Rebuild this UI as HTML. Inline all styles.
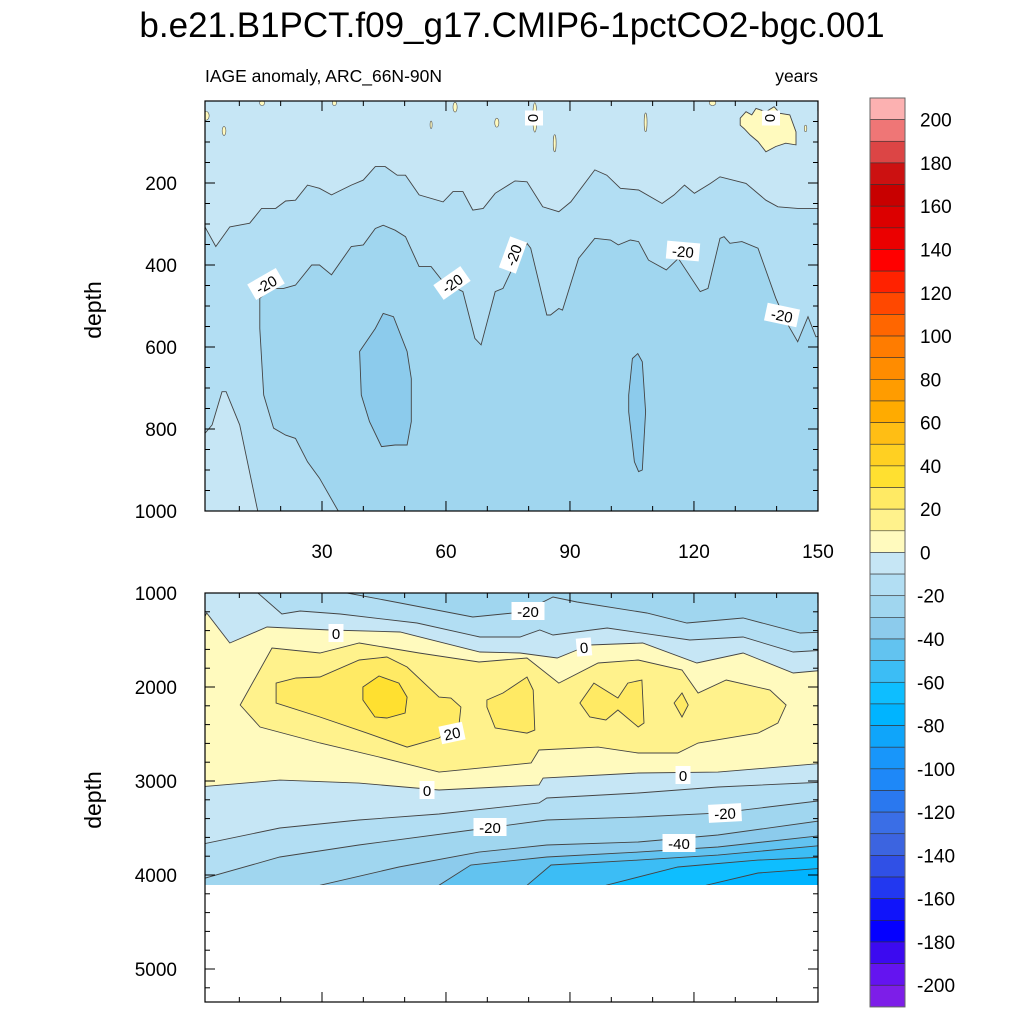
<!DOCTYPE html>
<html><head><meta charset="utf-8"><style>
html,body{margin:0;padding:0;background:#fff;overflow:hidden;width:1024px;height:1024px}
svg{display:block}
svg text{font-family:"Liberation Sans",sans-serif}
</style></head><body>
<svg id="chart" width="1024" height="1024" viewBox="0 0 1024 1024" xmlns="http://www.w3.org/2000/svg">
<defs>
<clipPath id="clipTop"><rect x="205" y="101" width="613" height="410"/></clipPath>
<clipPath id="clipBot"><rect x="205" y="593" width="613" height="292"/></clipPath>
</defs>
<rect width="1024" height="1024" fill="#fff"/>
<text x="512" y="37" font-size="35" text-anchor="middle">b.e21.B1PCT.f09_g17.CMIP6-1pctCO2-bgc.001</text>
<text x="205" y="82" font-size="17.5">IAGE anomaly, ARC_66N-90N</text>
<text x="818" y="82" font-size="17.5" text-anchor="end">years</text>
<g id="topFills" clip-path="url(#clipTop)"></g>
<g id="botFills" clip-path="url(#clipBot)"></g>
<g id="labels"></g>
<g id="axes"></g>
<g id="cbar"></g>
</svg>
<script>
// ---- colour levels (top box >200 ... bottom box <-200)
const bandColors = ['#fcb1b1','#ef7676','#dc4545','#cc1111','#c80000','#dc0000','#eb0000','#ff0000','#ff2200','#ff4800','#ff6600','#ff7c00','#ff8c00','#ff9c00','#ffab00','#ffbe14','#ffd022','#ffe030','#ffea64','#fff28c','#fffabe','#c6e6f5','#b2def3','#a0d6ef','#8ccbec','#62c3f0','#3cbdf5','#0ebeff','#00b4ff','#0fa5fa','#1896fa','#1e88f8','#2a78ef','#3a6ee6','#3c64e0','#3050e6','#2238f0','#1014fa','#0500ff','#3c0af0','#6414f0','#7d1ee8'];
const cbarLabels = [200,180,160,140,120,100,80,60,40,20,0,-20,-40,-60,-80,-100,-120,-140,-160,-180,-200];
const xTickLabels = [30,60,90,120,150];
const topYTicks = [200,400,600,800,1000];
const botYTicks = [1000,2000,3000,4000,5000];

// ---- top panel (0-1000 m) contour lines
const topBase = -10;
const topM10Yr = [0,1.45,4.3,7.7,12.5,15.4,18.8,21.2,23.6,26.5,29.4,32.3,37.1,40,42.9,45.3,48.2,50.2,53.5,59.3,61.7,64.1,66.5,69,71.9,76.7,79.6,83.4,87.3,90.2,96,98.9,102.2,106.6,112.3,115.2,117.7,120.1,124,126.3,132.6,137.4,140.3,145.1,150,152];
const topM10D = [300,303,355,307,298,262,262,244,242,205,213,229,205,193,160,160,181,181,229,246,221,221,266,262,225,195,197,258,270,246,168,181,213,217,250,229,205,225,201,185,201,242,258,262,262,262];
const topM20Yr = [36.2,29.4,26.5,23.6,21.2,18.3,15.9,14.95,14.95,17.8,20.7,23.6,27.5,29.4,32.3,37.1,40,42.9,44.8,47.7,50.2,53.5,56.4,59.3,64.1,67,68.5,71.9,73.8,75.7,79.6,80.5,84.4,85.3,87.3,88.2,92.1,96,99.8,101.7,104.6,106.6,109,113.3,116.2,121.5,123.4,126.3,127.3,128.7,131.6,135.5,139.8,142.3,145.1,147.6,149.5,152];
const topM20D = [1040,920,880,823,815,798,717,555,481,457,457,449,400,400,424,355,351,311,303,315,331,404,404,441,465,579,595,465,457,416,347,359,522,522,506,510,384,335,339,351,339,343,388,412,384,465,457,335,331,347,343,359,481,538,587,526,575,571];
const topCornerYr = [0,3.4,5.8,6.8,10.1,14.5,15,0];
const topCornerD = [831,790,709,709,790,1002,1100,1100];
const topBlob1Yr = [39.1,42.9,44.8,47.3,50.6,51.6,51.6,50.6,47.7,44.4,41.5,39.5];
const topBlob1D = [611,555,518,526,611,677,782,839,839,843,782,717];
const topBlob2Yr = [104.2,105.1,106.4,107.5,108.3,107.5,106.6,105.6,104.2];
const topBlob2D = [717,628,616,636,758,900,904,880,758];
const yellowBigYr = [131.2,132.6,134,135,137.4,139.4,140.8,143.2,144.7,144.7,142.2,139.8,137.4,135.5,133.6,132.1,131.2];
const yellowBigD = [42,26,34,18,26,14,30,34,75,107,103,111,124,99,83,67,59];
const spotYr = [81.5,86.3,72.3,108.3,6.3,56.4,1.9,147,62.2,33,15.5,124.5];
const spotD = [40,103,53,52,73,58,36,67,15,5,5,5];
const spotRYr = [0.5,0.35,0.5,0.35,0.45,0.25,0.8,0.3,0.5,0.5,0.6,0.8];
const spotRD = [36,21,11,23,11,9,11,8,12,6,6,6];

// ---- bottom panel (1000-4106 m)
const botBase = -30;
const bM20aYr = [0,24.7,36.1,48.9,66.5,78.6,85.9,91.7,108.6,118.3,131.9,145.7,152];
const bM20aD = [649,862,1000,1106,1255,1202,1043,1096,1213,1319,1266,1426,1415];
const bM10aYr = [0,14.5,20.3,24.7,34.4,53,68.2,77.9,82.7,85.9,99,119,131.9,144,152];
const bM10aD = [755,1000,1223,1191,1223,1319,1468,1468,1394,1447,1372,1500,1468,1628,1606];
const b0aYr = [0,2.1,7.7,16.7,31.9,48.9,68.2,77.9,86.9,91.7,94.8,107.6,120.7,131.9,144,152];
const b0aD = [1394,1213,1532,1362,1394,1415,1628,1638,1692,1606,1553,1532,1745,1638,1851,1819];
const b0bYr = [0,19.8,38.9,58.3,82.5,83.5,106.5,125.8,152];
const b0bD = [3064,2990,3022,3096,3043,2968,2915,2905,2809];
const bM10bYr = [0,19.8,38.9,58.3,82.5,84.4,106.5,125.8,152];
const bM10bD = [3681,3500,3415,3351,3234,3181,3128,3064,3011];
const bM20bYr = [0,19.8,38.9,69.9,84.4,106.5,125.8,152];
const bM20bD = [4054,3809,3681,3500,3415,3383,3341,3202];
const bM30Yr = [29.5,48.6,68,84.4,106.5,125.8,152];
const bM30D = [4110,3915,3756,3681,3649,3575,3415];
const bM40Yr = [58.3,66,84.4,106.5,125.8,152];
const bM40D = [4110,3894,3809,3756,3702,3575];
const bM50Yr = [79.6,85.4,106.5,125.8,152];
const bM50D = [4110,3894,3841,3788,3681];
const bM60Yr = [98.7,116.1,135.5,152];
const bM60D = [4110,3915,3841,3809];
const bM70Yr = [122.9,135.5,152];
const bM70D = [4110,3979,3926];
const b10Yr = [10.2,17.9,29.5,39,53.5,68,79.6,87.3,96.8,106.5,117.1,121,127.8,138.4,142.3,140.3,135.5,121,116.1,106.5,96.8,82.5,80.6,58.3,43.8,29.5,15];
const b10D = [2192,1585,1638,1532,1638,1734,1692,1958,1745,1713,1819,2064,1926,2032,2192,2383,2490,2596,2702,2702,2639,2670,2809,2905,2745,2596,2426];
const b20aYr = [18.9,23.7,29.5,39,45.7,50.6,58.3,61.2,63.6,63.2,58.3,50.6,40.9,29.5,18.9];
const b20aD = [1958,1904,1894,1713,1681,1787,2107,2117,2213,2383,2543,2639,2490,2319,2170];
const b20bYr = [69.9,73.8,79.6,81.1,81.5,79.6,71.9,69.9];
const b20bD = [2138,2064,1894,2032,2458,2490,2436,2213];
const b20cYr = [92.4,95.8,101.6,104,107.4,107.9,106.5,101.6,98.7,94.8];
const b20cD = [2170,1958,2117,1958,1926,2383,2426,2245,2351,2319];
const b20dYr = [115.2,117.1,118.6,117.1];
const b20dD = [2170,2064,2192,2319];
const b30Yr = [39.9,43.8,48.6,50.6,50.1,45.7,42.8,39.9];
const b30D = [2000,1883,1958,2107,2277,2330,2319,2138];

// ---- scales
function xs(yr){ return 198 + 4.133*yr; }
function ysTop(d){ return 101 + 0.41*d; }
function ysBot(d){ return 593 + 0.094*(d-1000); }
function colorOf(v){ const k = (200 - v)/10; return bandColors[k]; }
const NS='http://www.w3.org/2000/svg';
function mk(tag, parent){ const e=document.createElementNS(NS,tag); parent.appendChild(e); return e; }
function pts(yrs, ds, ys){ return yrs.map((y,i)=>xs(y).toFixed(1)+','+ys(ds[i]).toFixed(1)).join(' '); }

function fillBelow(g, yrs, ds, ys, v, name){
  const big = 9000;
  const yy = yrs.concat([yrs[yrs.length-1], yrs[0]]);
  const dd = ds.concat([big, big]);
  const p = mk('polygon', g);
  
  
  p.setAttribute('points', pts(yy, dd, ys));
  p.setAttribute('fill', colorOf(v));
}
function strokeLine(g, yrs, ds, ys, name){
  const p = mk('polyline', g);
  
  
  p.setAttribute('points', pts(yrs, ds, ys));
  p.setAttribute('fill', 'none'); p.setAttribute('stroke', '#444'); p.setAttribute('stroke-width', '0.9');
}
function blob(g, yrs, ds, ys, v, name){
  const p = mk('polygon', g);
  
  
  p.setAttribute('points', pts(yrs, ds, ys));
  p.setAttribute('fill', colorOf(v)); p.setAttribute('stroke', '#444'); p.setAttribute('stroke-width', '0.9');
}

// ---- top panel
const tg = document.getElementById('topFills');
const tbg = mk('rect', tg);


tbg.setAttribute('x', 205); tbg.setAttribute('y', 101); tbg.setAttribute('width', 613); tbg.setAttribute('height', 410); tbg.setAttribute('fill', colorOf(topBase));
fillBelow(tg, topM10Yr, topM10D, ysTop, -20, 'top-band-minus20');
fillBelow(tg, topM20Yr, topM20D, ysTop, -30, 'top-band-minus30');
strokeLine(tg, topM10Yr, topM10D, ysTop, 'top-contour-minus10');
strokeLine(tg, topM20Yr, topM20D, ysTop, 'top-contour-minus20');
blob(tg, topCornerYr, topCornerD, ysTop, -10, 'top-corner-region');
blob(tg, topBlob1Yr, topBlob1D, ysTop, -40, 'top-blob-minus30-a');
blob(tg, topBlob2Yr, topBlob2D, ysTop, -40, 'top-blob-minus30-b');
blob(tg, yellowBigYr, yellowBigD, ysTop, 0, 'top-positive-patch');
spotYr.forEach((y,i)=>{
  const e = mk('ellipse', tg);
  
  
  e.setAttribute('cx', xs(y)); e.setAttribute('cy', ysTop(spotD[i]));
  e.setAttribute('rx', 4.133*spotRYr[i]); e.setAttribute('ry', 0.41*spotRD[i]);
  e.setAttribute('fill', colorOf(0)); e.setAttribute('stroke', '#555'); e.setAttribute('stroke-width', '0.6');
});

// ---- bottom panel
const bg = document.getElementById('botFills');
const bbg = mk('rect', bg);


bbg.setAttribute('x', 205); bbg.setAttribute('y', 593); bbg.setAttribute('width', 613); bbg.setAttribute('height', 292); bbg.setAttribute('fill', colorOf(botBase));
const botLines = [
  [bM20aYr,bM20aD,-20,'minus20-upper'],[bM10aYr,bM10aD,-10,'minus10-upper'],[b0aYr,b0aD,0,'zero-upper'],
  [b0bYr,b0bD,-10,'zero-lower'],[bM10bYr,bM10bD,-20,'minus10-lower'],[bM20bYr,bM20bD,-30,'minus20-lower'],
  [bM30Yr,bM30D,-40,'minus30'],[bM40Yr,bM40D,-50,'minus40'],[bM50Yr,bM50D,-60,'minus50'],
  [bM60Yr,bM60D,-70,'minus60'],[bM70Yr,bM70D,-80,'minus70']
];
botLines.forEach(l=>fillBelow(bg, l[0], l[1], ysBot, l[2], 'bottom-band-'+l[3]));
botLines.forEach(l=>strokeLine(bg, l[0], l[1], ysBot, 'bottom-contour-'+l[3]));
blob(bg, b10Yr, b10D, ysBot, 10, 'bottom-blob-10');
blob(bg, b20aYr, b20aD, ysBot, 20, 'bottom-blob-20-a');
blob(bg, b20bYr, b20bD, ysBot, 20, 'bottom-blob-20-b');
blob(bg, b20cYr, b20cD, ysBot, 20, 'bottom-blob-20-c');
blob(bg, b20dYr, b20dD, ysBot, 20, 'bottom-blob-20-d');
blob(bg, b30Yr, b30D, ysBot, 30, 'bottom-blob-30');

// ---- contour labels [text, x, y, rotation]
const lbls = [
  ['0',534,118,90],['0',771,118,90],['-20',266,284,-30],['-20',452,283,-35],['-20',513,255,-70],
  ['-20',683,251,5],['-20',782,315,12],
  ['-20',528,611,0],['0',336,633,0],['0',584,647,-5],['20',452,733,-12],['0',427,790,0],['0',683,775,0],
  ['-20',490,827,0],['-20',725,813,-3],['-40',679,843,0]
];
const lg = document.getElementById('labels');
lbls.forEach(l=>{
  const g = mk('g', lg);
  
  
  g.setAttribute('transform', `translate(${l[1]},${l[2]}) rotate(${l[3]})`);
  const w = l[0].length*9+6;
  const r = mk('rect', g);
  r.setAttribute('x', -w/2); r.setAttribute('y', -9); r.setAttribute('width', w); r.setAttribute('height', 18); r.setAttribute('fill', '#fff');
  const t = mk('text', g);
  t.setAttribute('text-anchor', 'middle'); t.setAttribute('y', 6); t.setAttribute('font-size', 15);
  t.textContent = l[0];
});

// ---- axes
const ag = document.getElementById('axes');
function line(x1,y1,x2,y2,name,w){
  const e = mk('line', ag);
  
  
  e.setAttribute('x1',x1); e.setAttribute('y1',y1); e.setAttribute('x2',x2); e.setAttribute('y2',y2);
  e.setAttribute('stroke','#000'); e.setAttribute('stroke-width', w||1);
}
function text(s,x,y,size,anchor,name,rot){
  const t = mk('text', ag);
  
  
  t.setAttribute('x',x); t.setAttribute('y',y); t.setAttribute('font-size',size); t.setAttribute('text-anchor',anchor);
  if(rot) t.setAttribute('transform',`rotate(${rot} ${x} ${y})`);
  t.textContent = s;
}
function frame(y0,y1,name){
  const r = mk('rect', ag);
  
  
  r.setAttribute('x',205); r.setAttribute('y',y0); r.setAttribute('width',613); r.setAttribute('height',y1-y0);
  r.setAttribute('fill','none'); r.setAttribute('stroke','#000'); r.setAttribute('stroke-width',1.2);
}
frame(101,511,'top-panel-frame');
frame(593,1002,'bottom-panel-frame');
for(let yr=10; yr<=150; yr+=10){
  const x = xs(yr); const maj = yr%30===0; const L = maj?10:5;
  [[101,1],[511,-1],[593,1],[1002,-1]].forEach(([y,s])=>line(x,y,x,y+s*L,'x-tick',1));
}
xTickLabels.forEach(v=>text(String(v), xs(v), 558, 19, 'middle', 'x-tick-label'));
for(let d=50; d<1000; d+=50){
  const y = ysTop(d); const maj = d%200===0; const L = maj?10:5;
  line(205,y,205+L,y,'y-tick',1); line(818,y,818-L,y,'y-tick',1);
}
line(205,511,215,511,'y-tick',1); line(818,511,808,511,'y-tick',1);
topYTicks.forEach(v=>text(String(v), 177, ysTop(v)+7, 19, 'end', 'y-tick-label'));
for(let d=1200; d<5400; d+=200){
  const y = ysBot(d); const maj = d%1000===0; const L = maj?10:5;
  line(205,y,205+L,y,'y-tick',1); line(818,y,818-L,y,'y-tick',1);
}
line(205,593,215,593,'y-tick',1); line(818,593,808,593,'y-tick',1);
botYTicks.forEach(v=>text(String(v), 177, ysBot(v)+7, 19, 'end', 'y-tick-label'));
text('depth', 101, 310, 23, 'middle', 'top-y-axis-title', -90);
text('depth', 101, 800, 23, 'middle', 'bottom-y-axis-title', -90);

// ---- colorbar
const cg = document.getElementById('cbar');
const bh = 21.64;
bandColors.forEach((c,i)=>{
  const r = mk('rect', cg);
  
  
  r.setAttribute('x', 870); r.setAttribute('y', 98 + i*bh); r.setAttribute('width', 35); r.setAttribute('height', bh);
  r.setAttribute('fill', c); r.setAttribute('stroke', '#333'); r.setAttribute('stroke-width', 0.6);
});
const cf = mk('rect', cg);


cf.setAttribute('x',870); cf.setAttribute('y',98); cf.setAttribute('width',35); cf.setAttribute('height',bh*42);
cf.setAttribute('fill','none'); cf.setAttribute('stroke','#666'); cf.setAttribute('stroke-width',1);
cbarLabels.forEach(v=>{
  const j = (200 - v)/10 + 1;
  const t = mk('text', cg);
  
  
  t.setAttribute('x', v<0 ? 917 : 920); t.setAttribute('y', 98 + j*bh + 7); t.setAttribute('font-size', 19);
  t.textContent = String(v);
});
</script>
</body></html>
